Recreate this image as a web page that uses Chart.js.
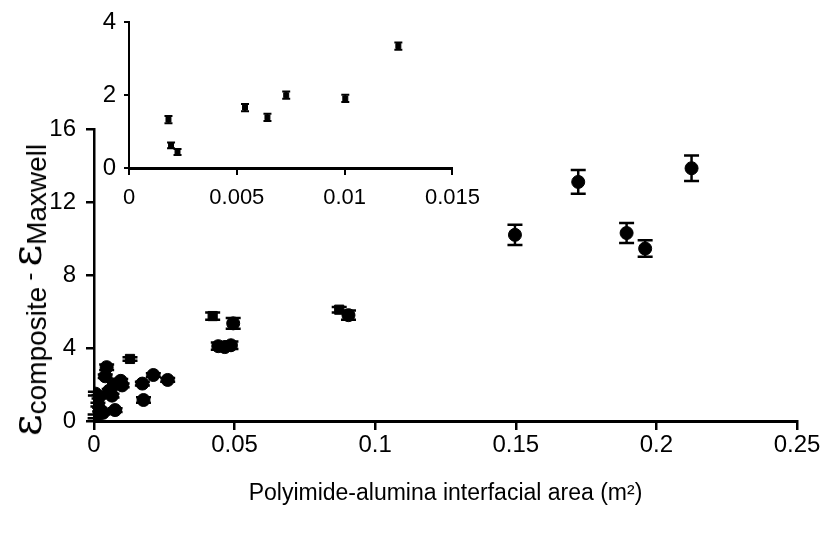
<!DOCTYPE html>
<html>
<head>
<meta charset="utf-8">
<script src="https://cdn.jsdelivr.net/npm/chart.js@4.4.1/dist/chart.umd.min.js"></script>
<style>
  html, body { margin: 0; padding: 0; background: #fff; }
  #wrap { position: relative; width: 826px; height: 533px; overflow: hidden; }
  #mainChart { position: absolute; left: 0; top: 0; }
  #insetChart { position: absolute; left: 0; top: 0; pointer-events: none; }
  #ytitle {
    position: absolute; left: 27px; top: 290px;
    transform: translate(-50%, -50%) rotate(-90deg);
    white-space: nowrap; font-family: "Liberation Sans", Arial, sans-serif; color: #000;
    line-height: 1;
  }
  #ytitle .eps { font-size: 42px; font-family: "DejaVu Serif", serif; }
  #ytitle .sub { font-size: 28px; position: relative; top: 5px; }
  #ytitle .dash { font-size: 24px; position: relative; top: -4px; margin: 0 6px; }
</style>
</head>
<body>
<div id="wrap">
  <canvas id="mainChart" width="826" height="533"></canvas>
  <canvas id="insetChart" width="490" height="225"></canvas>
  <div id="ytitle"><span class="eps">ε</span><span class="sub">composite</span><span class="dash">-</span><span class="eps">ε</span><span class="sub">Maxwell</span></div>
</div>
<script>
// main chart: points with round markers (x = interfacial area m^2, y = eps difference)
const mainRoundX = [0.0005, 0.0014, 0.0004, 0.0032, 0.0018, 0.0020, 0.0023, 0.0045, 0.0040, 0.0054, 0.0064, 0.0073, 0.0075, 0.0100, 0.0095, 0.0172, 0.0176, 0.0211, 0.0262,
                    0.0442, 0.0465, 0.0487, 0.0495, 0.0905,
                    0.1497, 0.1722, 0.1894, 0.1960, 0.2125];
const mainRoundY = [1.50, 0.90, 0.25, 0.45, 1.33, 0.62, 0.44, 2.95, 2.45, 1.66, 1.39, 2.00, 0.60, 1.95, 2.20, 2.05, 1.15, 2.52, 2.25,
                    4.10, 4.05, 4.15, 5.35, 5.80,
                    10.20, 13.10, 10.30, 9.45, 13.85];
const mainRoundErr = [0.1, 0.1, 0.1, 0.1, 0.1, 0.1, 0.1, 0.15, 0.1, 0.1, 0.1, 0.1, 0.1, 0.1, 0.1, 0.1, 0.15, 0.1, 0.1,
                      0.2, 0.2, 0.2, 0.3, 0.25,
                      0.55, 0.65, 0.55, 0.45, 0.7];
// main chart: points with square markers
const mainSquareX = [0.0128, 0.0422, 0.0872];
const mainSquareY = [3.40, 5.75, 6.10];
const mainSquareErr = [0.1, 0.2, 0.15];

// inset: low interfacial area region
const insetX = [0.00183, 0.00195, 0.00225, 0.00538, 0.00642, 0.00729, 0.01003, 0.01249];
const insetY = [1.33, 0.62, 0.44, 1.66, 1.39, 2.00, 1.91, 3.35];
const insetErr = [0.1, 0.08, 0.08, 0.1, 0.1, 0.1, 0.1, 0.1];

// tick labels
const mainXTicks = [0, 0.05, 0.1, 0.15, 0.2, 0.25];
const mainYTicks = [0, 4, 8, 12, 16];
const insetXTicks = [0, 0.005, 0.01, 0.015];
const insetYTicks = [0, 2, 4];

const xTitle = 'Polyimide-alumina interfacial area (m\u00B2)';

function toPoints(xs, ys) {
    return xs.map((x, i) => ({ x: x, y: ys[i] }));
}

// draws vertical error bars with caps, using each dataset's errors array
const errorBars = {
    id: 'errorBars',
    afterDatasetsDraw(chart, args, opts) {
        const ctx = chart.ctx;
        const xs = chart.scales.x;
        const ys = chart.scales.y;
        ctx.save();
        ctx.strokeStyle = '#000';
        ctx.lineWidth = opts.lineWidth || 2;
        chart.data.datasets.forEach((ds) => {
            if (!ds.errors) return;
            ds.data.forEach((p, i) => {
                const e = ds.errors[i];
                const px = xs.getPixelForValue(p.x);
                const top = ys.getPixelForValue(p.y + e);
                const bot = ys.getPixelForValue(p.y - e);
                const w = opts.capWidth || 6;
                ctx.beginPath();
                ctx.moveTo(px, top); ctx.lineTo(px, bot);
                ctx.moveTo(px - w, top); ctx.lineTo(px + w, top);
                ctx.moveTo(px - w, bot); ctx.lineTo(px + w, bot);
                ctx.stroke();
            });
        });
        ctx.restore();
    }
};

function fixTicks(values) {
    return function (scale) {
        scale.ticks = values.map(v => ({ value: v }));
    };
}

const tickFont = { family: '"Liberation Sans", Arial, sans-serif', size: 24 };

new Chart(document.getElementById('mainChart').getContext('2d'), {
    type: 'scatter',
    data: {
        datasets: [{
            data: toPoints(mainRoundX, mainRoundY),
            errors: mainRoundErr,
            pointStyle: 'circle',
            pointRadius: 6.5,
            backgroundColor: '#000',
            borderColor: '#000',
            borderWidth: 1
        }, {
            data: toPoints(mainSquareX, mainSquareY),
            errors: mainSquareErr,
            pointStyle: 'rect',
            pointRadius: 6.5,
            backgroundColor: '#000',
            borderColor: '#000',
            borderWidth: 1
        }]
    },
    options: {
        responsive: false,
        animation: false,
        layout: { padding: { left: 0, right: 29, top: 129, bottom: 0 } },
        plugins: {
            legend: { display: false },
            tooltip: { enabled: false },
            errorBars: { lineWidth: 2.5, capWidth: 7.5 }
        },
        scales: {
            x: {
                type: 'linear',
                min: 0, max: 0.25,
                afterBuildTicks: fixTicks(mainXTicks),
                afterFit: (s) => { s.height = 112; },
                border: { display: true, color: '#000', width: 3 },
                grid: { display: true, drawOnChartArea: false, drawTicks: true, tickLength: 9, color: '#000', lineWidth: 2.5 },
                ticks: { color: '#000', font: tickFont, padding: 1, maxRotation: 0, callback: (v) => String(v) },
                title: { display: true, text: xTitle, color: '#000', font: { family: tickFont.family, size: 23 }, padding: { top: 0, bottom: 26 } }
            },
            y: {
                type: 'linear',
                min: 0, max: 16,
                afterBuildTicks: fixTicks(mainYTicks),
                afterFit: (s) => { s.width = 94; },
                border: { display: true, color: '#000', width: 2.5 },
                grid: { display: true, drawOnChartArea: false, drawTicks: true, tickLength: 8, color: '#000', lineWidth: 2.5 },
                ticks: { color: '#000', font: tickFont, padding: 10, callback: (v) => String(v) }
            }
        }
    },
    plugins: [errorBars]
});

new Chart(document.getElementById('insetChart').getContext('2d'), {
    type: 'scatter',
    data: {
        datasets: [{
            data: toPoints(insetX, insetY),
            errors: insetErr,
            pointStyle: 'rect',
            pointRadius: 3.5,
            backgroundColor: '#000',
            borderColor: '#000',
            borderWidth: 1
        }]
    },
    options: {
        responsive: false,
        animation: false,
        layout: { padding: { left: 0, right: 27, top: 18, bottom: 0 } },
        plugins: {
            legend: { display: false },
            tooltip: { enabled: false },
            errorBars: { lineWidth: 2, capWidth: 4 }
        },
        scales: {
            x: {
                type: 'linear',
                min: 0, max: 0.015,
                afterBuildTicks: fixTicks(insetXTicks),
                afterFit: (s) => { s.height = 57; },
                border: { display: true, color: '#000', width: 3 },
                grid: { display: true, drawOnChartArea: false, drawTicks: true, tickLength: 7, color: '#000', lineWidth: 2 },
                ticks: { color: '#000', font: { family: tickFont.family, size: 22 }, padding: 10, maxRotation: 0, callback: (v) => String(v) }
            },
            y: {
                type: 'linear',
                min: 0, max: 4,
                afterBuildTicks: fixTicks(insetYTicks),
                afterFit: (s) => { s.width = 129; },
                border: { display: true, color: '#000', width: 2 },
                grid: { display: true, drawOnChartArea: false, drawTicks: true, tickLength: 5, color: '#000', lineWidth: 2 },
                ticks: { color: '#000', font: { family: tickFont.family, size: 24 }, padding: 8, callback: (v) => String(v) }
            }
        }
    },
    plugins: [errorBars]
});
</script>
</body>
</html>
